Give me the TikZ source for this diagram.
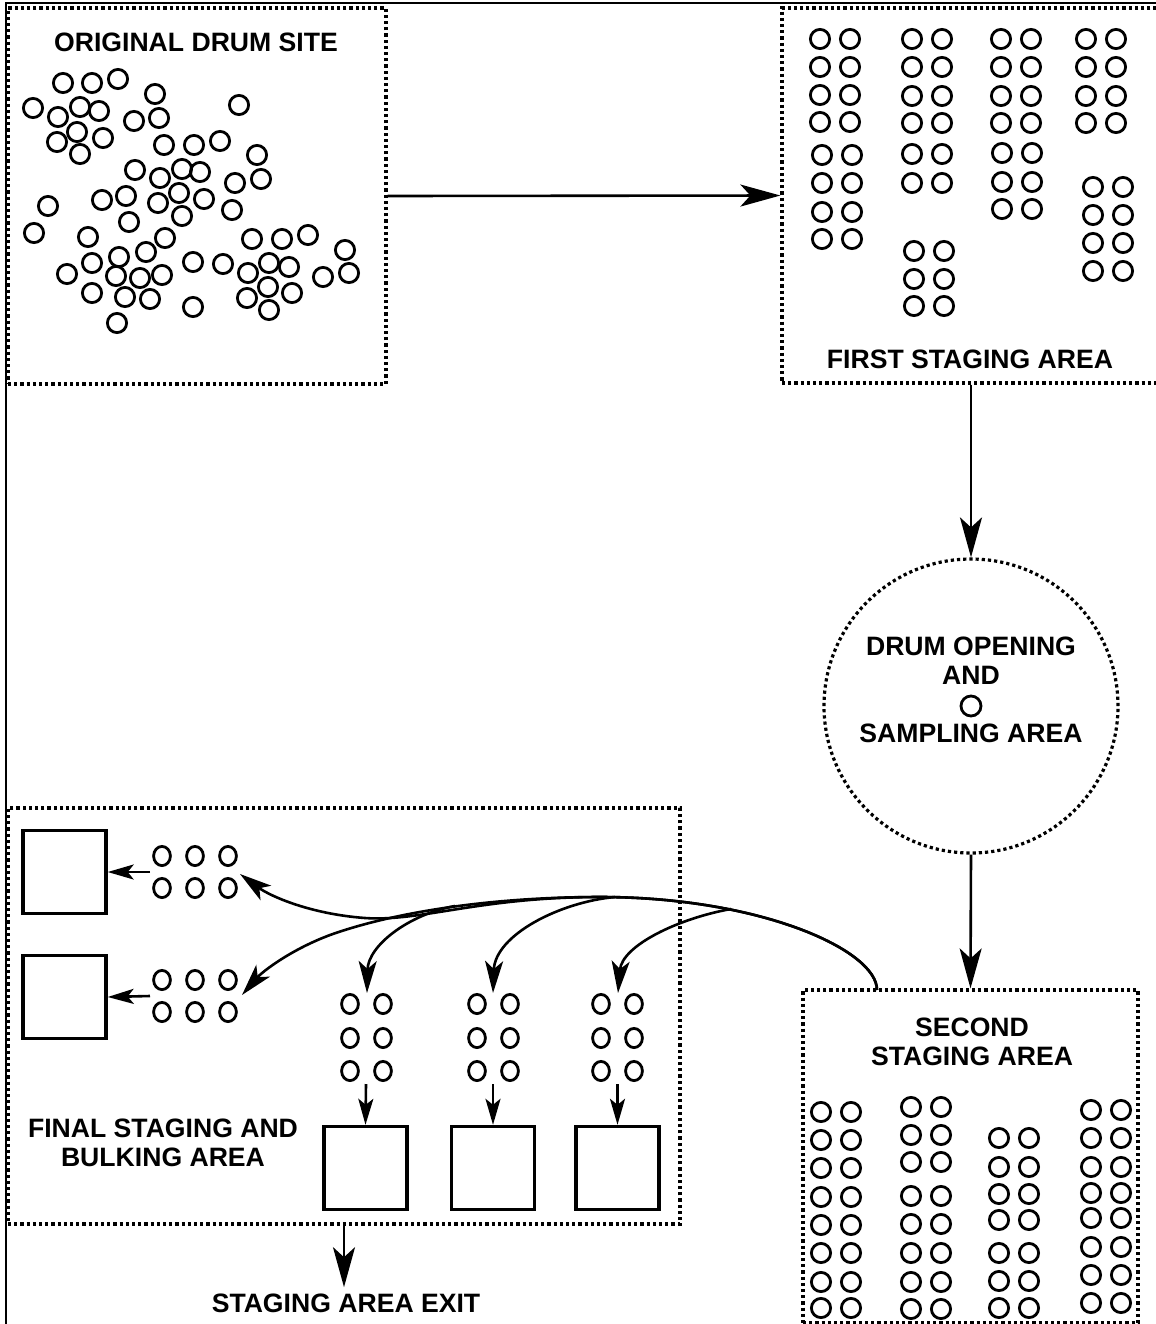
\documentclass[tikz,border=0pt]{standalone}
\usepackage{fontspec}
\setmainfont{Liberation Sans}
\usetikzlibrary{arrows.meta}

\tikzset{
  area/.style={draw, line width=1.6pt, dash pattern=on 1.6pt off 1.5pt, inner sep=0pt},
  drum/.style={line width=1.4pt},
  bin/.style={draw, line width=1.7pt, minimum width=41.5pt, minimum height=41.5pt, inner sep=0pt},
  flow/.style={line width=1.3pt, -{Stealth[length=16pt, width=9pt, inset=4pt]}},
  bigflow/.style={line width=1.3pt, -{Stealth[length=20pt, width=11pt, inset=5pt]}},
  smallflow/.style={line width=1.3pt, -{Stealth[length=13pt, width=7.5pt, inset=3pt]}},
  areatext/.style={font=\fontsize{13.3}{14.5}\selectfont\bfseries, align=center, inner sep=0pt},
}
\newcommand{\drumpair}[2]{\draw[drum] (#1,#2) circle (4.8pt) (#1+30,#2) circle (4.8pt);}

\begin{document}
\begin{tikzpicture}[x=0.5pt, y=-0.5pt]
  \useasboundingbox (0,0) rectangle (1156,1324);

  % frame
  \draw[line width=1.2pt] (6,1330) -- (6,3) -- (1160,3);

  % the five areas
  \node[area, minimum width=189pt, minimum height=188pt] (site) at (197,196) {};
  \node[area, minimum width=189pt, minimum height=187.5pt] (first) at (971,195.5) {};
  \node[area, circle, minimum size=147pt] (opening) at (971,706) {};
  \node[area, minimum width=167.5pt, minimum height=166.5pt] (second) at (970.5,1156.5) {};
  \node[area, minimum width=336pt, minimum height=208pt] (final) at (344,1016) {};

  \node[areatext] (sitetext) at (196,42) {ORIGINAL DRUM SITE};
  \node[areatext] (firsttext) at (970,359) {FIRST STAGING AREA};
  \node[areatext] (openingtext) at (971,660.5) {DRUM OPENING\\AND};
  \node[areatext] (samplingtext) at (971,733) {SAMPLING AREA};
  \node[areatext] (secondtext) at (972,1042) {SECOND\\STAGING AREA};
  \node[areatext] (finaltext) at (163,1142.5) {FINAL STAGING AND\\BULKING AREA};
  \node[areatext] (exit) at (346,1303) {STAGING AREA EXIT};

  % drums lying about the original site
  \foreach \x/\y in
    {
      63/83, 92/83, 118/79, 155/94, 33/108, 58/117, 80/107, 99/111,
      134/121, 159/118, 239/105, 77/132, 57/142, 103/138, 80/154,
      164/145, 194/145, 220/141, 257/155, 135/170, 160/178, 182/169,
      200/172, 235/183, 261/179, 48/206, 102/200, 126/196, 158/203,
      179/193, 204/199, 232/210, 182/216, 129/222, 34/233, 88/237,
      165/238, 252/239, 282/239, 308/235, 345/250, 92/263, 119/257,
      146/252, 193/262, 223/264, 248/273, 269/263, 289/267, 323/277,
      349/273, 67/274, 116/276, 140/278, 162/275, 92/293, 125/297,
      150/299, 193/307, 247/298, 268/287, 292/293, 269/310, 117/323
    }
    {
      \draw[drum] (\x,\y) circle (4.8pt);
    }

  % first staging area, rows of pairs
  \foreach \y in {39,67,95,122} {\drumpair{820}{\y}}
  \foreach \y in {155,183,212,239} {\drumpair{822}{\y}}
  \foreach \y in {39,67,96,123,154,183} {\drumpair{912}{\y}}
  \foreach \y in {251,279,306} {\drumpair{914}{\y}}
  \foreach \y in {39,67,96,123} {\drumpair{1001}{\y}}
  \foreach \y in {153,182,209} {\drumpair{1002}{\y}}
  \foreach \y in {39,67,96,123} {\drumpair{1086}{\y}}
  \foreach \y in {187,215,243,271} {\drumpair{1093}{\y}}

  % the one drum being opened
  \draw[drum] (971,706) circle (5pt);

  % second staging area
  \foreach \y in {1112,1140,1168,1197,1225,1253,1282,1308} {\drumpair{821}{\y}}
  \foreach \y in {1107,1135,1162,1196,1224,1253,1282,1309} {\drumpair{911}{\y}}
  \foreach \y in {1138,1167,1194,1220,1253,1281,1308} {\drumpair{999}{\y}}
  \foreach \y in {1110,1138,1167,1193,1218,1247,1275,1303} {\drumpair{1091}{\y}}

  % final staging and bulking
  \foreach \y in {856,888,980,1012}
    \foreach \x in {162,195,228}
    {
      \draw[drum] (\x,\y) ellipse (4.2pt and 4.8pt);
    }
  \foreach \x in {350,477,601}
    \foreach \y in {1004,1038,1071}
    {
      \draw[drum] (\x,\y) ellipse (4.2pt and 4.8pt) (\x+33,\y) ellipse (4.2pt and 4.8pt);
    }

  \node[bin] (bin1) at (64.5,872) {};
  \node[bin] (bin2) at (64.5,997) {};
  \node[bin] (bin3) at (365.5,1168) {};
  \node[bin] (bin4) at (493,1168) {};
  \node[bin] (bin5) at (617.5,1168) {};

  \coordinate (row1) at (150,872);
  \coordinate (row2) at (150,996);
  \coordinate (col1) at (366,1084);
  \coordinate (col2) at (493,1084);
  \coordinate (col3) at (617.5,1084);
  \draw[smallflow] (row1) -- (bin1.east);
  \draw[smallflow] (row2) -- (bin2.east);
  \draw[smallflow] (col1) -- (bin3.north);
  \draw[smallflow] (col2) -- (bin4.north);
  \draw[smallflow] (col3) -- (bin5.north);

  % main flow
  \draw[bigflow] (site.east) -- (first.west);
  \draw[bigflow] (first.south) -- (opening.north);
  \draw[bigflow] (opening.south) -- (second.north);
  \draw[bigflow] (final.south) -- ([yshift=3pt]final.south |- exit.north);

  % sorted drums go back to the final area
  \coordinate (src) at (877,990);
  \coordinate (fork1) at (455,906);
  \coordinate (fork2) at (615,897);
  \coordinate (fork3) at (731,909);
  \draw[flow] (src) .. controls (877,950) and (760,897) .. (600,897)
    .. controls (480,897) and (420,922) .. (365,918)
    .. controls (310,914) and (270,896) .. (240,874);
  \draw[flow] (src) .. controls (877,950) and (760,897) .. (600,897)
    .. controls (500,897) and (400,910) .. (330,935)
    .. controls (290,950) and (262,972) .. (242,995);
  \draw[flow] (fork1) .. controls (410,914) and (368,945) .. (367,993);
  \draw[flow] (fork2) .. controls (560,902) and (495,935) .. (493,993);
  \draw[flow] (fork3) .. controls (680,918) and (622,945) .. (618,993);

\end{tikzpicture}
\end{document}
